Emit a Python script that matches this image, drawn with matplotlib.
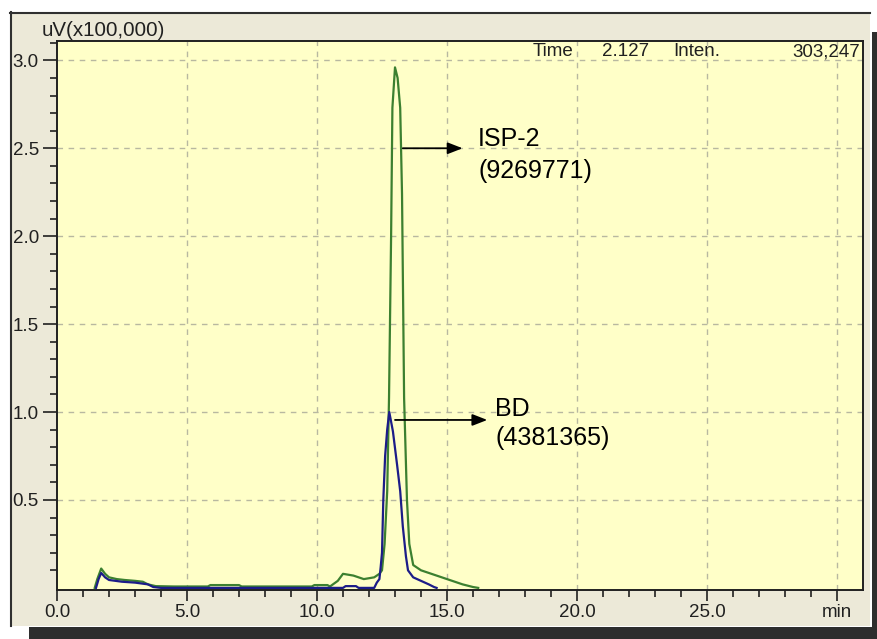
import matplotlib
matplotlib.use("Agg")
import matplotlib.pyplot as plt
from matplotlib.patches import Rectangle
import numpy as np

plt.rcParams["font.family"] = ["Liberation Sans", "DejaVu Sans"]

# retention time (min) / signal (uV x 100,000)
isp_time = [1.45, 1.55, 1.7, 1.85, 2.0, 2.3, 2.6, 3.0, 3.3, 3.5, 3.8,
            4.5, 5.8, 5.9, 7.0, 7.1, 9.8, 9.9, 10.4, 10.5, 10.8, 11.0, 11.4,
            11.8, 12.2, 12.4, 12.5, 12.6, 12.7, 12.77, 12.85, 12.9, 13.0,
            13.1, 13.2, 13.27, 13.35, 13.46, 13.55, 13.7, 14.0, 14.4, 14.8,
            15.2, 15.6, 16.0, 16.2]
isp_signal = [0.0, 0.05, 0.11, 0.08, 0.06, 0.05, 0.045, 0.04, 0.035,
              0.02, 0.01, 0.008, 0.008, 0.016, 0.016, 0.008, 0.008, 0.016,
              0.016, 0.008, 0.04, 0.08, 0.07, 0.05, 0.06, 0.08, 0.1, 0.25,
              0.55, 1.08, 2.0, 2.73, 2.96, 2.9, 2.73, 2.24, 1.08, 0.5, 0.25,
              0.13, 0.1, 0.08, 0.06, 0.04, 0.02, 0.005, 0.0]

bd_time = [1.5, 1.6, 1.7, 1.85, 2.0, 2.5, 3.0, 3.5, 3.7, 4.0, 11.0,
           11.1, 11.5, 11.6, 12.2, 12.3, 12.4, 12.45, 12.5, 12.55, 12.62,
           12.7, 12.78, 12.92, 13.08, 13.2, 13.3, 13.42, 13.5, 13.7, 14.0,
           14.3, 14.5, 14.6]
bd_signal = [0.0, 0.05, 0.085, 0.06, 0.045, 0.035, 0.03, 0.02, 0.005,
             0.0, 0.0, 0.01, 0.01, 0.0, 0.0, 0.03, 0.05, 0.12, 0.2, 0.5,
             0.75, 0.9, 1.0, 0.89, 0.7, 0.55, 0.35, 0.18, 0.1, 0.06, 0.04,
             0.02, 0.005, 0.0]

x_major = [0, 5, 10, 15, 20, 25, 30]
x_labels = ["0.0", "5.0", "10.0", "15.0", "20.0", "25.0", "min"]
y_major = [0.5, 1.0, 1.5, 2.0, 2.5, 3.0]
y_labels = ["0.5", "1.0", "1.5", "2.0", "2.5", "3.0"]

W, H = 877, 639


def px_rect(fig, x0, y0, x1, y1, **kw):
    # rectangle given in image pixels (origin top-left)
    r = Rectangle((x0 / W, 1 - y1 / H), (x1 - x0) / W, (y1 - y0) / H,
                  transform=fig.transFigure, zorder=-5, **kw)
    fig.add_artist(r)


fig = plt.figure(figsize=(W / 100, H / 100), dpi=100, facecolor="white")

# window frame and drop shadow
px_rect(fig, 872, 32, 877, 639, facecolor="#2e2e2e", edgecolor="none")
px_rect(fig, 29, 627, 877, 639, facecolor="#2e2e2e", edgecolor="none")
px_rect(fig, 10, 12, 870, 626, facecolor="#ECE9D8", edgecolor="none")
fig.add_artist(plt.Line2D([10 / W, 870 / W], [1 - 12.5 / H, 1 - 12.5 / H],
                          transform=fig.transFigure, color="#303030", lw=1.5,
                          zorder=-4))
fig.add_artist(plt.Line2D([10.5 / W, 10.5 / W], [1 - 12 / H, 1 - 626 / H],
                          transform=fig.transFigure, color="#303030", lw=1.5,
                          zorder=-4))

ax = fig.add_axes([57 / W, 1 - 590 / H, (863 - 57) / W, (590 - 41) / H])
ax.set_facecolor("#FFFFC8")

ax.plot(isp_time, isp_signal, color="#3C8030", lw=1.6, zorder=3)
ax.plot(bd_time, bd_signal, color="#1C1C88", lw=1.6, zorder=4)

ax.set_xlim(0, 31.0)
ax.set_ylim(-0.012, 3.11)

ax.set_xticks(x_major)
ax.set_xticklabels(x_labels)
ax.set_xticks(np.arange(0, 31, 1), minor=True)
ax.set_yticks(y_major)
ax.set_yticklabels(y_labels)
ax.set_yticks(np.arange(0.1, 3.11, 0.1), minor=True)

ax.tick_params(axis="both", which="major", labelsize=13.5, length=8,
               width=1.2, color="#202020", labelcolor="#202020", pad=2)
ax.tick_params(axis="y", which="major", length=10, pad=3)
ax.tick_params(axis="both", which="minor", length=5, width=1.2,
               color="#202020")
for s in ax.spines.values():
    s.set_linewidth(1.4)
    s.set_color("#202020")

for xv in x_major[1:]:
    ax.axvline(xv, color="#B8B8A0", lw=1, ls=(0, (4, 4)), zorder=1)
for yv in y_major:
    ax.axhline(yv, color="#B8B8A0", lw=1, ls=(0, (4, 4)), zorder=1)

fig.text(42 / W, 1 - 31 / H, "uV(x100,000)", fontsize=14.8, color="#202020",
         va="center", ha="left")

ty = 1 - 52 / H
fig.text(573 / W, ty, "Time", fontsize=13.5, ha="right", va="center", color="#202020")
fig.text(602 / W, ty, "2.127", fontsize=13.5, ha="left", va="center", color="#202020")
fig.text(673 / W, ty, "Inten.", fontsize=13.5, ha="left", va="center", color="#202020")
fig.text(860 / W, ty, "303,247", fontsize=13.5, ha="right", va="center", color="#202020")

# peak annotations
arrow = dict(arrowstyle="-|>,head_length=0.9,head_width=0.35", color="black",
             lw=1.3, shrinkA=0, shrinkB=0)
ax.annotate("", xy=(15.6, 2.5), xytext=(13.3, 2.5), arrowprops=arrow, zorder=5)
ax.text(16.2, 2.55, "ISP-2", fontsize=18, va="center", ha="left")
ax.text(16.2, 2.37, "(9269771)", fontsize=18, va="center", ha="left")

ax.annotate("", xy=(16.55, 0.955), xytext=(13.0, 0.955), arrowprops=arrow, zorder=5)
ax.text(16.85, 1.02, "BD", fontsize=18, va="center", ha="left")
ax.text(16.85, 0.85, "(4381365)", fontsize=18, va="center", ha="left")

fig.savefig("out.png", dpi=100, facecolor="white")
